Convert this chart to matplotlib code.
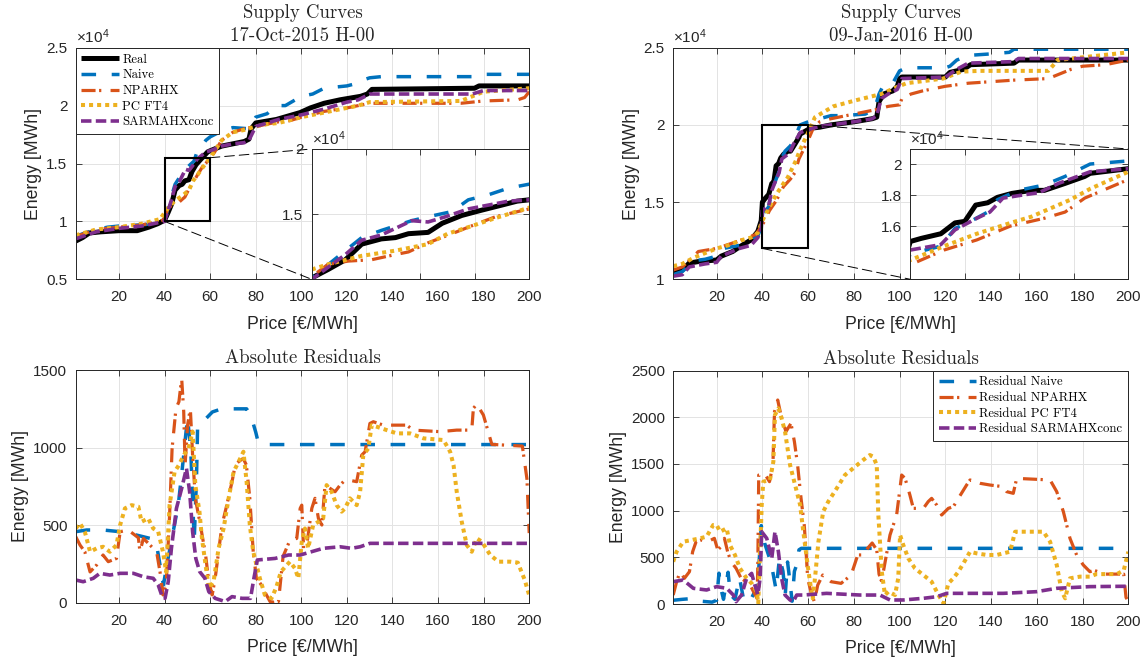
import matplotlib
matplotlib.use('Agg')
import matplotlib.pyplot as plt
from matplotlib.patches import Rectangle, ConnectionPatch
from matplotlib.ticker import FuncFormatter, FixedLocator, NullFormatter

plt.rcParams['font.family'] = ['Liberation Sans', 'DejaVu Sans']
plt.rcParams['mathtext.fontset'] = 'custom'
plt.rcParams['mathtext.rm'] = 'Liberation Sans'
plt.rcParams['mathtext.it'] = 'Liberation Sans:italic'

# ---------------- data : supply curves 17-Oct-2015 (MWh) ----------------
tl_real_x = [1, 4, 7, 12, 20, 28, 33, 37, 40, 41.5, 43.1, 44.6, 46.4, 47.7, 48.9, 50.7, 52, 53.8, 55.6, 57.5,
             58.9, 60, 65, 70, 75, 77, 78, 80, 89, 99.5, 104, 110, 117, 126, 129, 131, 176, 178, 200]
tl_real_y = [8300, 8600, 9000, 9100, 9200, 9200, 9500, 9800, 10100, 10750, 11500, 12700, 13100, 13200, 13500,
             13600, 14300, 14900, 15300, 15700, 16000, 16100, 16500, 16700, 16900, 17100, 18000, 18500, 18800,
             19400, 19800, 20200, 20500, 20800, 21000, 21400, 21500, 21700, 21700]
tl_naive_x = [1, 5, 10, 15, 20, 30, 35, 40, 43.1, 44.6, 46.4, 49.2, 50.7, 52.9, 54.4, 56.3, 58.1, 60, 65, 70,
              77, 80, 85, 89, 93, 100, 105, 110, 120, 125, 127, 130, 135, 175, 178, 200]
tl_naive_y = [8700, 9000, 9300, 9500, 9600, 9700, 9800, 10100, 12200, 13200, 13750, 14500, 14800, 15200, 16100,
              16500, 17000, 17300, 17800, 18100, 18000, 19000, 19300, 20000, 20000, 20800, 21000, 21500, 21700,
              21950, 22200, 22400, 22500, 22500, 22700, 22700]
tl_npar_x = [1, 10, 20, 30, 38, 40, 41.5, 43.4, 45.5, 47.7, 48.9, 50.7, 52.9, 54.7, 56.9, 60, 62, 65, 70, 75,
             80, 85, 90, 95, 100, 110, 120, 125, 130, 170, 180, 195, 198, 200]
tl_npar_y = [8700, 9300, 9500, 9700, 10000, 10200, 11150, 11400, 11500, 11900, 12100, 12800, 13500, 14100,
             14800, 15400, 16000, 17000, 17700, 18000, 18200, 18400, 18600, 18700, 19000, 19500, 19800, 20000,
             20200, 20200, 20400, 20500, 20700, 21200]
tl_pc_x = [1, 10, 20, 30, 38, 40, 41.5, 44.6, 47.7, 50.7, 52.5, 54.4, 56.9, 60, 62, 65, 70, 75, 80, 85, 90,
           100, 110, 120, 125, 130, 170, 175, 180, 200]
tl_pc_y = [8800, 9300, 9500, 9800, 10200, 10750, 11150, 11800, 12200, 12700, 13500, 14000, 14700, 15500, 16100,
           17000, 17700, 17900, 18200, 18400, 18500, 19000, 19400, 19800, 20000, 20300, 20400, 20800, 21200, 21500]
tl_sar_x = [1, 10, 20, 30, 40, 43.1, 44.6, 46.4, 49.2, 50.7, 52.3, 54.4, 56.9, 58.1, 60, 65, 70, 75, 77, 80,
            85, 90, 100, 110, 120, 125, 130, 175, 180, 200]
tl_sar_y = [8500, 9100, 9400, 9600, 10000, 11900, 13000, 13400, 14500, 14400, 14800, 15400, 15800, 16000, 16100,
            16500, 16700, 16800, 17000, 18200, 18500, 18800, 19200, 19700, 20300, 20500, 21000, 21000, 21300, 21300]

# ---------------- data : supply curves 09-Jan-2016 (MWh) ----------------
tr_real_x = [1, 5, 8, 12, 20, 22, 27, 30, 35, 38, 39.5, 40, 41, 42.8, 44.1, 45, 46, 47.1, 48, 49.3, 51.1, 52.3,
             54.2, 56, 56.5, 60, 62, 65, 70, 80, 88, 90, 91, 93, 97, 99, 100, 101, 120, 122, 128, 131, 150, 152, 200]
tr_real_y = [10500, 10600, 11050, 11150, 11250, 11500, 11800, 12100, 12550, 13100, 13800, 15000, 15200, 15500,
             16200, 16300, 17350, 17500, 17850, 18100, 18300, 18300, 18750, 19200, 19400, 19700, 19800, 19850,
             20000, 20200, 20400, 20500, 21500, 22000, 22200, 22500, 23000, 23100, 23100, 23400, 23600, 23900,
             24000, 24200, 24200]
tr_naive_x = [1, 5, 10, 15, 20, 23, 30, 35, 38, 39.5, 40, 42.8, 44.1, 45, 47.1, 48, 49.9, 52.3, 54.2, 56.5, 60,
              62, 65, 70, 75, 85, 89, 91, 93, 97, 100, 103, 120, 122, 125, 130, 140, 148, 150, 200]
tr_naive_y = [10300, 10500, 11200, 11300, 11500, 12000, 12200, 12500, 12800, 13400, 14200, 14700, 15850, 16100,
              16900, 17700, 18300, 18650, 19200, 20000, 20200, 20300, 20400, 20600, 20600, 20700, 21000, 22000,
              22600, 22700, 23500, 23700, 23700, 23800, 24200, 24500, 24600, 24700, 24900, 24900]
tr_npar_x = [1, 5, 10, 12, 20, 30, 37, 40, 43.1, 46.1, 49.2, 52.3, 54.2, 56, 60, 62, 65, 70, 80, 90, 95, 100,
             101, 105, 110, 120, 130, 140, 150, 165, 170, 175, 180, 190, 200]
tr_npar_y = [10600, 10800, 11500, 11800, 12000, 12500, 12900, 13500, 14450, 15100, 16000, 16500, 16900, 17800,
             19000, 19700, 20200, 20400, 20700, 21000, 21200, 21300, 21700, 22000, 22200, 22500, 22700, 22800,
             22900, 23000, 23300, 23600, 23800, 23900, 24200]
tr_pc_x = [1, 5, 10, 20, 25, 30, 35, 38, 40, 43.1, 46.1, 49.2, 51.1, 52.9, 54.7, 56.5, 60, 63, 71, 81, 92, 98,
           103, 119, 127, 135, 165, 168, 169, 200]
tr_pc_y = [10850, 11000, 11400, 12000, 12200, 12500, 12700, 13000, 13800, 14700, 15500, 16200, 16600, 17150,
           17700, 18400, 19500, 20500, 21200, 21600, 22000, 22400, 22700, 23000, 23450, 23500, 23500, 24000,
           24200, 24700]
tr_sar_x = [1, 5, 8, 15, 20, 22, 30, 35, 38, 39.5, 40, 42.8, 44.1, 46.1, 47.3, 48.5, 50.3, 51.8, 53.6, 56.5, 60,
            65, 70, 80, 88, 90, 92, 95, 99, 101, 120, 125, 130, 150, 152, 200]
tr_sar_y = [10200, 10300, 10800, 11000, 11100, 11500, 12000, 12200, 12700, 13300, 14450, 14800, 15750, 16500,
            16900, 17800, 18000, 18150, 18750, 19500, 19700, 19900, 20000, 20200, 20400, 20600, 21700, 22000,
            22300, 23000, 23100, 23600, 24000, 24100, 24300, 24300]

# ---------------- data : absolute residuals 17-Oct-2015 (MWh) ----------------
bl_naive_x = [1, 5.8, 13, 20.5, 27.8, 33.6, 36.5, 38, 39.5, 41, 43.2, 46, 48.1, 49.4, 50.1, 51.5, 53, 54, 54.5,
              57, 61, 65, 76, 78, 80, 81, 83, 200]
bl_naive_y = [459, 470, 470, 459, 437, 416, 373, 245, 116, 245, 416, 630, 910, 1100, 1190, 980, 400, 800, 1140,
              1170, 1230, 1250, 1250, 1200, 1100, 1040, 1020, 1020]
bl_npar_x = [1, 2.9, 5, 7.3, 10.2, 13, 15.3, 18.9, 20.5, 24, 27, 28.5, 29.2, 30.7, 33.6, 36.5, 38, 39.3, 40.7,
             42.2, 43.3, 45, 46.3, 47.5, 48.4, 49, 50.1, 51.3, 52.3, 53.5, 55.7, 58, 59.4, 60.9, 62.2, 63.7, 65.2,
             67.3, 69.6, 71, 72.5, 74.5, 75.9, 77.4, 78.9, 80.3, 82.5, 84.7, 86.3, 88, 90, 92, 95, 98, 99.5,
             100.2, 101, 102.4, 104.6, 106, 107.5, 109, 110.4, 112.6, 114.8, 117, 118.5, 120.6, 124.3, 126.5,
             128, 130.1, 131.6, 136, 146.2, 149.2, 160.9, 168.2, 174.8, 175.5, 177, 179.9, 182, 183.6, 188.7,
             197, 199, 200]
bl_npar_y = [427, 373, 330, 200, 245, 309, 266, 287, 459, 470, 437, 420, 330, 416, 373, 330, 200, 52, 116, 566,
             995, 1253, 1296, 1446, 1231, 888, 1145, 1253, 952, 674, 502, 309, 137, 52, 159, 330, 502, 630, 781,
             888, 910, 931, 888, 674, 330, 159, 116, 52, 9, 5, 10, 300, 404, 416, 609, 630, 352, 373, 609, 674,
             545, 502, 759, 738, 716, 759, 781, 792, 781, 952, 974, 1156, 1167, 1145, 1145, 1113, 1103, 1113,
             1113, 1253, 1280, 1210, 1103, 1021, 1017, 1010, 800, 450]
bl_pc_x = [1, 2.9, 5, 7.3, 10.2, 13, 16, 18.9, 20.5, 22.6, 25.5, 28.5, 29.9, 32.8, 35, 37.2, 39.3, 40.7, 42.2,
           44.4, 46.3, 48.4, 50.5, 52.3, 53.5, 55.3, 56.4, 58, 59.4, 61.5, 63.7, 65.9, 68.1, 70.3, 73.2, 74.6,
           76, 77.4, 78.9, 81.8, 84, 86.9, 89, 91, 93, 95, 97.2, 98.7, 100.2, 101.6, 103, 105.2, 107.5, 109.6,
           111.1, 113.3, 115.5, 117.7, 119.2, 121.3, 124.3, 125.8, 127.2, 129.4, 130.9, 133.1, 137.5, 141.9,
           147.7, 153.6, 162.4, 165.3, 166.8, 168.2, 170.4, 172.6, 174.8, 177, 179.2, 182.9, 186.5, 191.6, 195,
           198, 200]
bl_pc_y = [480, 513, 459, 330, 352, 362, 330, 373, 502, 609, 630, 620, 523, 545, 480, 459, 330, 200, 630, 845,
           888, 952, 995, 1103, 759, 588, 416, 245, 94, 137, 352, 480, 674, 845, 931, 974, 781, 502, 330, 159, 52,
           30, 100, 200, 234, 266, 223, 159, 395, 480, 352, 502, 523, 545, 759, 716, 630, 588, 609, 674, 630, 716,
           952, 995, 1145, 1135, 1113, 1092, 1092, 1060, 1049, 974, 888, 716, 523, 373, 330, 416, 395, 309, 266,
           266, 260, 150, 50]
bl_sar_x = [1, 4.3, 8.7, 11.6, 16, 20.5, 26.3, 30.7, 35, 37.2, 38.7, 40.2, 41.6, 43, 45.2, 47.5, 49.6, 51, 52.3,
            53.7, 55.4, 57.7, 59.4, 62.2, 66.6, 69.6, 74, 77.7, 79.2, 80.7, 88.5, 94.4, 99.5, 109.6, 117, 122,
            125.8, 130.1, 200]
bl_sar_y = [148, 137, 159, 191, 180, 191, 191, 169, 159, 116, 52, 30, 137, 352, 609, 738, 867, 716, 459, 287,
            202, 159, 73, 30, 9, 41, 30, 30, 159, 277, 287, 309, 309, 352, 362, 352, 362, 384, 384]

# ---------------- data : absolute residuals 09-Jan-2016 (MWh) ----------------
br_naive_x = [1, 5, 10, 13, 18, 20, 21, 22, 23, 24, 25, 26, 28, 30, 31, 32, 35, 38, 39.5, 41, 43, 44.5, 46,
              47.5, 49, 50, 51, 52, 53, 54, 55, 56, 57, 200]
br_naive_y = [40, 50, 60, 30, 20, 40, 330, 150, 50, 200, 340, 100, 50, 280, 150, 20, 50, 200, 840, 650, 500,
              350, 150, 500, 350, 100, 450, 250, 30, 350, 420, 580, 596, 596]
br_npar_x = [1, 2.5, 4, 5.9, 8.1, 9.5, 11, 13.2, 16.1, 19, 20.5, 21.9, 23.4, 24.8, 26.3, 28.5, 30.7, 32.9, 35,
             36.5, 37.7, 38, 38.4, 40.9, 43.1, 44.6, 45.3, 46.7, 48.1, 50.3, 52.5, 54, 55.4, 56.9, 58.3, 59.1,
             59.8, 61.2, 62.7, 64.2, 66.4, 70, 74.4, 78.8, 81.7, 84.6, 86, 88, 90, 91, 92, 93, 95.8, 98.7, 100.9,
             102.4, 104.5, 106, 110.4, 112.5, 114, 116.2, 118.4, 121.3, 123.5, 125.7, 129.3, 130.8, 135.2, 139.5,
             145.3, 146.8, 149.7, 151.2, 165.8, 168.7, 171.6, 174.5, 177.4, 180.3, 183.2, 185, 190, 198, 199, 200]
br_npar_y = [96, 239, 346, 275, 346, 560, 667, 685, 667, 703, 578, 614, 703, 560, 453, 382, 275, 239, 186, 114,
             61, 418, 1381, 1399, 1310, 1488, 2059, 2184, 2024, 1845, 1934, 1738, 1488, 1131, 846, 560, 275, 132,
             25, 203, 310, 239, 221, 310, 525, 525, 596, 653, 580, 320, 250, 360, 739, 953, 1381, 1345, 1167,
             1024, 1024, 1096, 1131, 1060, 953, 1024, 1042, 1131, 1274, 1328, 1292, 1274, 1256, 1203, 1185, 1345,
             1328, 1203, 989, 703, 525, 418, 346, 360, 320, 320, 70, 30]
br_pc_x = [1, 2.5, 5.4, 9.1, 12.7, 15.6, 18.5, 20, 21.5, 24.4, 25.8, 28, 30.2, 33.1, 35.3, 37.5, 38.2, 39, 39.7,
           40.4, 43.3, 44.8, 45.5, 47, 48.4, 49.9, 52.1, 54.3, 56.5, 57.9, 59.4, 60.8, 62, 63, 64.5, 66.6, 68.8,
           72.5, 76.1, 79.7, 84.1, 87, 88.5, 90, 90.7, 92.2, 93.6, 95.1, 98, 99.4, 100.2, 101.6, 103.8, 106.7,
           110.4, 114, 117, 119.2, 121.3, 123.5, 125.7, 127.9, 130.8, 133.7, 138.1, 142.5, 148.3, 150.5, 154.2,
           162.9, 165.8, 168.7, 170.9, 172.4, 174.5, 178.9, 183.2, 186, 195, 198, 200]
br_pc_y = [453, 560, 667, 685, 703, 721, 846, 846, 774, 810, 632, 525, 382, 275, 221, 132, 7, 560, 1060, 1310,
           1328, 1524, 2024, 2095, 1988, 1845, 1488, 1274, 1060, 774, 489, 239, 61, 275, 667, 989, 1096, 1238,
           1381, 1453, 1542, 1595, 1577, 1488, 953, 346, 96, 132, 96, 275, 739, 632, 489, 382, 310, 239, 96, 7,
           221, 275, 346, 435, 560, 542, 525, 525, 560, 774, 774, 774, 667, 418, 132, 61, 275, 293, 293, 320,
           320, 360, 560]
br_sar_x = [1, 5.4, 9.8, 15.6, 20, 24.4, 27.3, 28.5, 30.9, 33.1, 35.3, 36.7, 38, 39, 39.7, 41.9, 44.1, 45.5, 47,
            48.4, 49.9, 52.1, 53.5, 55, 57.9, 68.1, 82.7, 91.4, 95.8, 101.6, 110.4, 116.2, 120.6, 130.8, 145.3,
            159.9, 168.7, 183.2, 200]
br_sar_y = [239, 257, 168, 150, 186, 168, 96, 25, 96, 275, 328, 203, 100, 275, 774, 703, 489, 774, 560, 275, 96,
            43, 25, 96, 96, 114, 96, 96, 43, 43, 61, 78, 114, 114, 114, 132, 168, 186, 190]

supply_labels = ['Real', 'Naive', 'NPARHX', 'PC FT4', 'SARMAHXconc']
resid_labels = ['Residual Naive', 'Residual NPARHX', 'Residual PC FT4', 'Residual SARMAHXconc']
price_ticks = [20, 40, 60, 80, 100, 120, 140, 160, 180, 200]

# ---------------- styles ----------------
STY = {
    'real': dict(color='black', lw=3.6, ls='-', solid_capstyle='butt'),
    'naive': dict(color='#0072BD', lw=2.5, ls=(0, (4.2, 4.5))),
    'npar': dict(color='#D95319', lw=2.3, ls=(0, (4.4, 1.1, 0.7, 2.9))),
    'pc': dict(color='#EDB120', lw=2.9, ls=(0, (1, 1))),
    'sar': dict(color='#7E2F8E', lw=2.6, ls=(0, (2.9, 1.2))),
}
EDGE = '#262626'
LEG_PROP = dict(family='cmr10', size=9.2)

W, H = 1148, 664
fig = plt.figure(figsize=(W / 100, H / 100), dpi=100)


def ax_px(l, t, r, b, **kw):
    return fig.add_axes([l / W, 1 - b / H, (r - l) / W, (b - t) / H], **kw)


def style(ax):
    ax.tick_params(direction='in', length=4, width=0.6, top=True, right=True,
                   labelsize=11, colors=EDGE, labelcolor='#262626')
    ax.tick_params(axis='x', pad=8)
    ax.tick_params(axis='y', pad=6)
    ax.grid(True, color='#e3e3e3', lw=0.7)
    ax.set_axisbelow(True)
    for s in ax.spines.values():
        s.set_linewidth(0.7)
        s.set_color(EDGE)


def sci(v, p):
    return f'{v / 1e4:g}'


def draw(ax, series):
    lines = []
    for key, (x, y) in series:
        ln, = ax.plot(x, y, **STY[key])
        lines.append(ln)
    return lines


def make_legend(ax, lines, labels, loc, anchor):
    lg = ax.legend(lines, labels, loc=loc, bbox_to_anchor=anchor, borderaxespad=0,
                   prop=LEG_PROP, handlelength=2.9, handletextpad=0.3,
                   labelspacing=0.28, borderpad=0.45, fancybox=False, framealpha=1, edgecolor='#262626')
    lg.get_frame().set_linewidth(0.7)
    lg.set_zorder(6)


def labels(ax):
    ax.set_xlabel('Price [€/MWh]', fontsize=12.7, labelpad=8, color='#262626')
    ax.set_ylabel('Energy [MWh]', fontsize=12.7, labelpad=3, color='#262626')


def supply_panel(box, inset_box, series, ylim, yticks, title, rect, inset_ylim, inset_yticks, upper_to,
                 legend=False):
    ax = ax_px(*box)
    style(ax)
    lines = draw(ax, series)
    ax.set_xlim(1, 200)
    ax.set_ylim(*ylim)
    ax.xaxis.set_major_locator(FixedLocator(price_ticks))
    ax.yaxis.set_major_locator(FixedLocator(yticks))
    ax.yaxis.set_major_formatter(FuncFormatter(sci))
    labels(ax)
    ax.set_title(title, fontfamily='cmr10', fontsize=13.5, pad=5, linespacing=1.35, color='#262626')
    ax.text(0, 1.006, r'$\times10^{4}$', transform=ax.transAxes, fontsize=11, ha='left', va='bottom',
            color='#262626')
    (rx0, ry0, rx1, ry1) = rect
    ax.add_patch(Rectangle((rx0, ry0), rx1 - rx0, ry1 - ry0, fill=False, ec='black', lw=1.5, zorder=5))
    if legend:
        make_legend(ax, lines, supply_labels, 'upper left', (0, 1))
    axin = ax_px(*inset_box, zorder=3)
    style(axin)
    draw(axin, series)
    axin.set_xlim(rx0, rx1)
    axin.set_ylim(*inset_ylim)
    axin.xaxis.set_major_locator(FixedLocator([40, 45, 50, 55, 60]))
    axin.xaxis.set_major_formatter(NullFormatter())
    axin.yaxis.set_major_locator(FixedLocator(inset_yticks))
    axin.yaxis.set_major_formatter(FuncFormatter(sci))
    axin.text(0, 1.006, r'$\times10^{4}$', transform=axin.transAxes, fontsize=11, ha='left', va='bottom',
              color='#262626')
    dash = dict(color='black', lw=0.7, ls=(0, (10, 5)), zorder=4, clip_on=False)
    con1 = ConnectionPatch(xyA=(rx1, ry1), coordsA=ax.transData, xyB=upper_to, coordsB=axin.transAxes, **dash)
    con2 = ConnectionPatch(xyA=(rx0, ry0), coordsA=ax.transData, xyB=(0, 0), coordsB=axin.transAxes, **dash)
    ax.add_artist(con1)
    ax.add_artist(con2)
    return ax


def resid_panel(box, series, ylim, yticks, legend=False):
    ax = ax_px(*box)
    style(ax)
    lines = draw(ax, series)
    ax.set_xlim(1, 200)
    ax.set_ylim(*ylim)
    ax.xaxis.set_major_locator(FixedLocator(price_ticks))
    ax.yaxis.set_major_locator(FixedLocator(yticks))
    labels(ax)
    ax.set_title('Absolute Residuals', fontfamily='cmr10', fontsize=13.5, pad=5, color='#262626')
    if legend:
        make_legend(ax, lines, resid_labels, 'upper right', (1, 1))
    return ax


supply_panel((75.7, 47.7, 529.2, 279.3), (311.7, 149, 529.2, 279.3),
             [('real', (tl_real_x, tl_real_y)), ('naive', (tl_naive_x, tl_naive_y)),
              ('npar', (tl_npar_x, tl_npar_y)), ('pc', (tl_pc_x, tl_pc_y)), ('sar', (tl_sar_x, tl_sar_y))],
             (5000, 25000), [5000, 10000, 15000, 20000, 25000], 'Supply Curves\n17-Oct-2015 H-00',
             (40, 10000, 60, 15500), (10000, 20000), [15000, 20000], (0, 1), legend=True)

supply_panel((673.2, 47.7, 1128.3, 279.3), (910.3, 149, 1128.3, 279.3),
             [('real', (tr_real_x, tr_real_y)), ('naive', (tr_naive_x, tr_naive_y)),
              ('npar', (tr_npar_x, tr_npar_y)), ('pc', (tr_pc_x, tr_pc_y)), ('sar', (tr_sar_x, tr_sar_y))],
             (10000, 25000), [10000, 15000, 20000, 25000], 'Supply Curves\n09-Jan-2016 H-00',
             (40, 12000, 60, 20000), (12560, 20970), [16000, 18000, 20000], (1, 1))

resid_panel((75.7, 370, 529.2, 603),
            [('naive', (bl_naive_x, bl_naive_y)), ('npar', (bl_npar_x, bl_npar_y)),
             ('pc', (bl_pc_x, bl_pc_y)), ('sar', (bl_sar_x, bl_sar_y))],
            (0, 1500), [0, 500, 1000, 1500])

resid_panel((673.2, 370.5, 1128.3, 604),
            [('naive', (br_naive_x, br_naive_y)), ('npar', (br_npar_x, br_npar_y)),
             ('pc', (br_pc_x, br_pc_y)), ('sar', (br_sar_x, br_sar_y))],
            (0, 2500), [0, 500, 1000, 1500, 2000, 2500], legend=True)

fig.savefig('out.png', dpi=100)
